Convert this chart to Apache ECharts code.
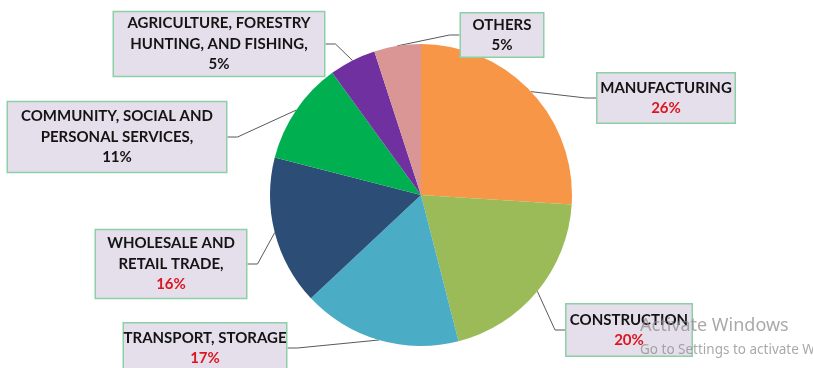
<!DOCTYPE html>
<html>
<head>
<meta charset="utf-8">
<script src="https://cdn.jsdelivr.net/npm/echarts@6/dist/echarts.min.js"></script>
<style>
  html, body { margin: 0; padding: 0; background: #fff; }
  #chart { width: 813px; height: 368px; }
</style>
</head>
<body>
<div id="chart"></div>
<script>
// Share of establishments by sector (%), clockwise from 12 o'clock
const categories = [
  'MANUFACTURING',
  'CONSTRUCTION',
  'TRANSPORT, STORAGE',
  'WHOLESALE AND\nRETAIL TRADE,',
  'COMMUNITY, SOCIAL AND\nPERSONAL SERVICES,',
  'AGRICULTURE, FORESTRY\nHUNTING, AND FISHING,',
  'OTHERS'
];
const shares = [26, 20, 17, 16, 11, 5, 5];

const sliceColors = ['#F79646', '#9BBB59', '#4BACC6', '#2C4D75', '#00B050', '#7030A0', '#D99694'];
const pctRed = [true, true, true, true, false, false, false];

// label box placement: centre x, centre y, box width, vertical padding
const boxes = [
  { x: 666, y: 98,  w: 139, pv: 4 },
  { x: 629, y: 330, w: 127, pv: 5 },
  { x: 205, y: 348, w: 164, pv: 4 },
  { x: 171, y: 264, w: 152, pv: 3 },
  { x: 117, y: 137, w: 220, pv: 4 },
  { x: 219, y: 44,  w: 212, pv: 1 },
  { x: 502, y: 35,  w: 84,  pv: 1 }
];

const textFont = 'Lato, "Open Sans", sans-serif';

const data = categories.map((name, i) => ({
  name: name,
  value: shares[i],
  itemStyle: { color: sliceColors[i] },
  label: {
    width: boxes[i].w - 2,
    padding: [boxes[i].pv, 0, boxes[i].pv, 0],
    formatter: (p) => {
      const lines = p.name.split('\n').map(s => '{n|' + s + '}');
      lines.push((pctRed[i] ? '{r|' : '{k|') + p.value + '%}');
      return lines.join('\n');
    }
  }
}));

const chart = echarts.init(document.getElementById('chart'), null, { renderer: 'canvas' });

chart.setOption({
  backgroundColor: '#ffffff',
  animation: false,
  series: [{
    type: 'pie',
    center: [421, 195],
    radius: 151,
    startAngle: 90,
    clockwise: true,
    data: data,
    label: {
      show: true,
      position: 'outside',
      overflow: 'none',
      backgroundColor: '#E5DFEC',
      borderColor: '#8DCFA6',
      borderWidth: 1.5,
      align: 'center',
      rich: {
        n: { fontFamily: textFont, fontWeight: 'bold', fontSize: 15, lineHeight: 20.5, color: '#141414', align: 'center' },
        r: { fontFamily: textFont, fontWeight: 'bold', fontSize: 15, lineHeight: 20.5, color: '#DC1620', align: 'center' },
        k: { fontFamily: textFont, fontWeight: 'bold', fontSize: 15, lineHeight: 20.5, color: '#141414', align: 'center' }
      }
    },
    labelLine: {
      show: true,
      length: 10,
      length2: 10,
      lineStyle: { color: '#595959', width: 1 }
    },
    labelLayout: (params) => {
      const b = boxes[params.dataIndex];
      return { x: b.x, y: b.y, align: 'center', verticalAlign: 'middle' };
    }
  }],
  graphic: [
    {
      type: 'text', left: 640, top: 317, z: 100, silent: true,
      style: { text: 'Activate Windows', font: '18px "Noto Sans", "Open Sans", sans-serif', fill: 'rgba(140,140,140,0.75)' }
    },
    {
      type: 'text', left: 640, top: 343, z: 100, silent: true,
      style: { text: 'Go to Settings to activate Windows.', font: '13.5px "Noto Sans", "Open Sans", sans-serif', fill: 'rgba(140,140,140,0.75)' }
    }
  ]
});
</script>
</body>
</html>
